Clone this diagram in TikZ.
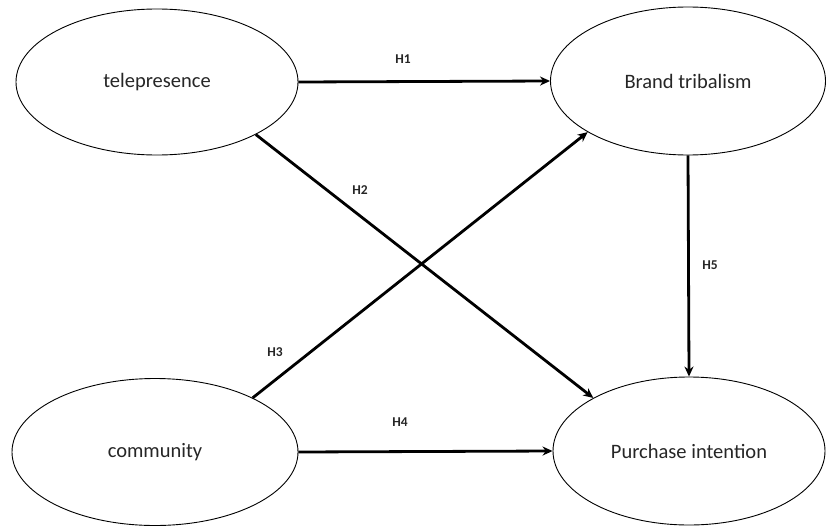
\documentclass[tikz,border=0pt]{standalone}
\usepackage{fontspec}
\setmainfont{Carlito}
\usetikzlibrary{shapes.geometric,arrows.meta}
\begin{document}
\begin{tikzpicture}[x=1pt,y=-1pt,
  construct/.style={draw, ellipse, line width=0.9pt, inner sep=0pt, font=\fontsize{20.5}{24}\selectfont, text=black!85},
  link/.style={line width=2.8pt, -{Stealth[length=10pt,width=9pt]}},
  hlabel/.style={font=\fontsize{13.5}{16}\selectfont\bfseries, text=black!85}]
\useasboundingbox (0,0) rectangle (826,527);
\fill[white] (0,0) rectangle (826,527);
\node[construct, minimum width=282pt, minimum height=146pt] (tele) at (157,82) {telepresence};
\node[construct, minimum width=275pt, minimum height=148pt] (brand) at (688,81) {Brand tribalism};
\node[construct, minimum width=286pt, minimum height=147pt] (comm) at (155,452) {community};
\node[construct, minimum width=272pt, minimum height=148pt] (purch) at (689,451) {Purchase intention};
\draw[link] (tele.east) -- (brand.west);
\draw[link] (tele.-28.4) -- (purch.151.6);
\draw[link] (comm.29) -- (brand.207.5);
\draw[link] (comm.east) -- (purch.west);
\draw[link] (brand.south) -- (purch.north);
\node[hlabel] (h1) at (403,59) {H1};
\node[hlabel] (h2) at (360,190) {H2};
\node[hlabel] (h3) at (275,352) {H3};
\node[hlabel] (h4) at (400,422) {H4};
\node[hlabel] (h5) at (710,265) {H5};
\end{tikzpicture}
\end{document}
